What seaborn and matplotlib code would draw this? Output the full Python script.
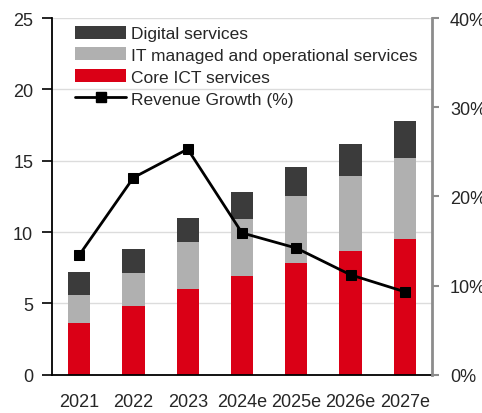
import numpy as np
import pandas as pd
import matplotlib
matplotlib.use("Agg")
import matplotlib.pyplot as plt
from matplotlib.patches import Patch
from matplotlib.lines import Line2D
from matplotlib.ticker import FuncFormatter
import seaborn as sns

# Revenue by segment (USD bn) and annual revenue growth (%)
years = ["2021", "2022", "2023", "2024e", "2025e", "2026e", "2027e"]
core_ict = [3.6, 4.8, 6.0, 6.9, 7.85, 8.7, 9.5]
it_managed = [2.0, 2.3, 3.3, 4.0, 4.7, 5.2, 5.7]
digital = [1.6, 1.7, 1.7, 1.9, 2.0, 2.3, 2.6]
growth = [13.4, 22.1, 25.3, 15.9, 14.2, 11.2, 9.3]

series_names = ["Core ICT services", "IT managed and operational services", "Digital services"]
colors = {"Core ICT services": "#DA0016",
          "IT managed and operational services": "#B0B0B0",
          "Digital services": "#3B3B3B"}

sns.set_theme(style="white")
plt.rcParams["font.family"] = ["Liberation Sans Narrow", "Liberation Sans", "DejaVu Sans"]
FS = 12.5

df = pd.DataFrame({"year": years, "Core ICT services": core_ict,
                   "IT managed and operational services": it_managed,
                   "Digital services": digital})
cum = df[series_names].cumsum(axis=1)

fig = plt.figure(figsize=(4.82, 4.14), dpi=100)
ax = fig.add_axes([52 / 482, 1 - 375.7 / 414, 380 / 482, (375.7 - 19) / 414])

# stacked bars: draw cumulative totals from top layer down
for name in reversed(series_names):
    sns.barplot(x=df["year"], y=cum[name], color=colors[name], width=0.41,
                saturation=1, linewidth=0, ax=ax, zorder=2)

ax.set_xlim(-0.5, len(years) - 0.5)
ax.set_ylim(0, 25)
ax.set_yticks(np.arange(0, 26, 5))
ax.yaxis.grid(True, color="#DCDCDC", linewidth=1.0, zorder=0)
ax.set_axisbelow(True)
ax.set_xlabel("")
ax.set_ylabel("")

# tick marks at category boundaries, labels centred under bars
ax.set_xticks(np.arange(len(years)))
ax.set_xticklabels(years, fontsize=FS + 0.5)
ax.set_xticks(np.arange(-0.5, len(years)), minor=True)
ax.tick_params(axis="x", which="major", length=0, pad=13)
ax.tick_params(axis="x", which="minor", length=6, width=1.2, color="black", direction="out")
ax.tick_params(axis="y", which="major", left=True, length=7, width=1.2, color="black",
               direction="out", labelsize=FS + 0.5, pad=6.5)

for side in ["top", "right"]:
    ax.spines[side].set_visible(False)
for side in ["left", "bottom"]:
    ax.spines[side].set_color("black")
    ax.spines[side].set_linewidth(1.3)

# growth line on secondary axis
ax2 = ax.twinx()
sns.lineplot(x=np.arange(len(years)), y=growth, color="black", linewidth=2.0,
             marker="s", markersize=6.8, markeredgecolor="black", ax=ax2, zorder=5)
ax2.set_ylim(0, 40)
ax2.set_yticks([0, 10, 20, 30, 40])
ax2.yaxis.set_major_formatter(FuncFormatter(lambda v, p: f"{v:.0f}%"))
ax2.tick_params(axis="y", right=True, length=5, width=1.5, color="#8C8C8C",
                direction="out", labelsize=FS + 0.5, pad=8)
ax2.grid(False)
for side in ["top", "left", "bottom"]:
    ax2.spines[side].set_visible(False)
ax2.spines["right"].set_color("#8C8C8C")
ax2.spines["right"].set_linewidth(2)
ax2.set_ylabel("")

handles = [Patch(facecolor=colors["Digital services"], edgecolor="none", label="Digital services"),
           Patch(facecolor=colors["IT managed and operational services"], edgecolor="none",
                 label="IT managed and operational services"),
           Patch(facecolor=colors["Core ICT services"], edgecolor="none", label="Core ICT services"),
           Line2D([0], [0], color="black", linewidth=2.0, marker="s", markersize=6.8,
                  label="Revenue Growth (%)")]
ax2.legend(handles=handles, loc="upper left", bbox_to_anchor=(75 / 482, 1 - 26.5 / 414),
           bbox_transform=fig.transFigure, frameon=False, fontsize=FS,
           handlelength=2.95, handleheight=0.78, handletextpad=0.25,
           labelspacing=0.36, borderpad=0, borderaxespad=0)

fig.savefig("out.png", dpi=100)
